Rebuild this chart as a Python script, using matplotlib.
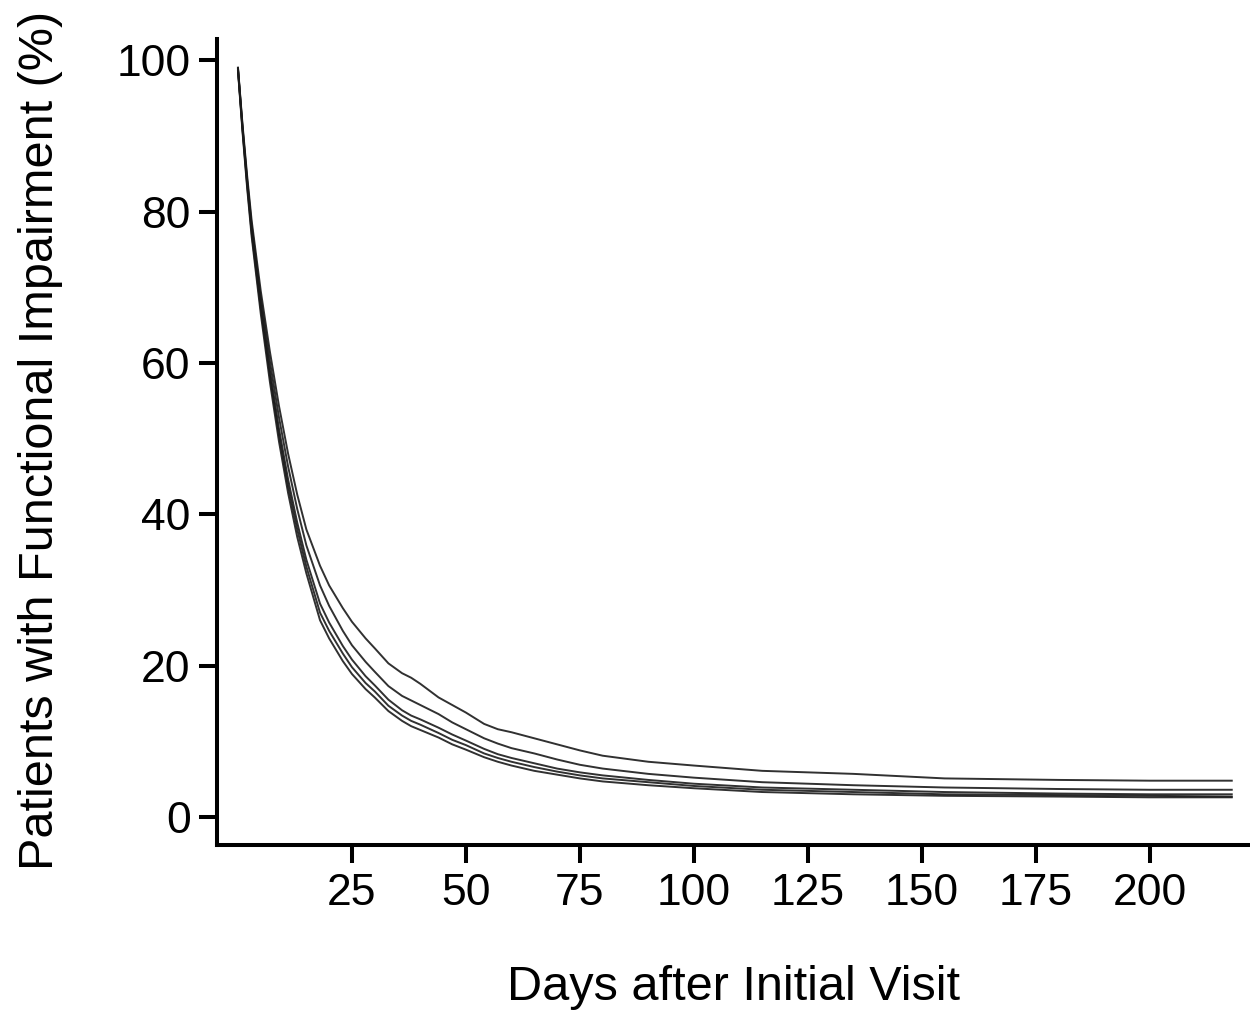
import matplotlib.pyplot as plt
import numpy as np

plt.rcParams['font.family'] = ['Liberation Sans', 'DejaVu Sans']

# jours après la visite initiale
days = [0, 1, 2, 3, 5, 7, 9, 11, 13, 15, 18, 20, 23, 25, 28, 30, 33, 36, 38, 40,
        44, 47, 50, 54, 57, 60, 65, 70, 75, 80, 90, 100, 115, 135, 155, 180, 200, 218]

# cinq courbes (de la plus haute à la plus basse)
curve_a = [99.0, 91.5, 84.8, 78.8, 69.5, 61.5, 54.3, 48.0, 42.6, 38.0, 33.2, 30.6, 27.6, 25.8,
           23.6, 22.3, 20.3, 19.0, 18.4, 17.6, 15.8, 14.8, 13.8, 12.3, 11.6, 11.2, 10.4, 9.6,
           8.8, 8.1, 7.3, 6.8, 6.1, 5.7, 5.1, 4.9, 4.8, 4.8]
curve_b = [99.0, 91.2, 84.3, 78.2, 68.6, 60.2, 52.8, 46.3, 40.7, 35.9, 30.6, 27.9, 24.6, 22.7,
           20.5, 19.2, 17.3, 16.0, 15.4, 14.8, 13.6, 12.5, 11.6, 10.4, 9.7, 9.1, 8.4, 7.6,
           6.9, 6.4, 5.7, 5.2, 4.6, 4.2, 3.9, 3.7, 3.6, 3.6]
curve_c = [98.8, 91.0, 84.0, 77.7, 67.8, 59.0, 51.3, 44.6, 38.9, 34.0, 28.2, 25.7, 22.6, 20.8,
           18.6, 17.4, 15.5, 14.1, 13.4, 12.9, 11.8, 10.9, 10.1, 9.0, 8.3, 7.8, 7.1, 6.4,
           5.9, 5.5, 4.9, 4.4, 3.9, 3.6, 3.3, 3.1, 3.0, 3.0]
curve_d = [98.8, 90.8, 83.6, 77.2, 67.2, 58.3, 50.5, 43.7, 38.0, 33.1, 27.0, 24.6, 21.6, 19.8,
           17.7, 16.6, 14.7, 13.4, 12.7, 12.2, 11.1, 10.2, 9.5, 8.4, 7.8, 7.3, 6.6, 6.0,
           5.5, 5.1, 4.6, 4.1, 3.6, 3.3, 3.0, 2.9, 2.8, 2.7]
curve_e = [98.6, 90.5, 83.2, 76.7, 66.5, 57.5, 49.6, 42.8, 37.0, 32.2, 26.0, 23.6, 20.6, 18.9,
           16.9, 15.8, 14.0, 12.7, 12.0, 11.5, 10.5, 9.6, 8.9, 7.9, 7.3, 6.8, 6.1, 5.6,
           5.1, 4.7, 4.2, 3.8, 3.3, 3.0, 2.8, 2.7, 2.6, 2.6]

x_ticks = [25, 50, 75, 100, 125, 150, 175, 200]
y_ticks = [0, 20, 40, 60, 80, 100]

fig = plt.figure(figsize=(12.5, 10.16), dpi=100)
ax = fig.add_axes([0.1736, 0.1683, 0.8264, 0.7933])

for curve in [curve_a, curve_b, curve_c, curve_d, curve_e]:
    ax.plot(days, curve, color='#1a1a1a', linewidth=1.4, alpha=0.9)

ax.set_xlim(-4.6, 222)
ax.set_ylim(-3.7, 102.8)
ax.set_xticks(x_ticks)
ax.set_yticks(y_ticks)

ax.spines['top'].set_visible(False)
ax.spines['right'].set_visible(False)
for side in ['left', 'bottom']:
    ax.spines[side].set_linewidth(2.9)
ax.tick_params(axis='both', direction='out', length=13, width=2.9,
               labelsize=32, colors='black')
ax.tick_params(axis='x', pad=7)
ax.tick_params(axis='y', pad=6)

ax.set_xlabel('Days after Initial Visit', fontsize=35)
ax.set_ylabel('Patients with Functional Impairment (%)', fontsize=35)
ax.xaxis.set_label_coords(0.5, -0.177)
ax.xaxis.label.set_va('center')
ax.yaxis.set_label_coords(-0.171, 0.502)
ax.yaxis.label.set_va('center')

fig.savefig('out.png', dpi=100)
